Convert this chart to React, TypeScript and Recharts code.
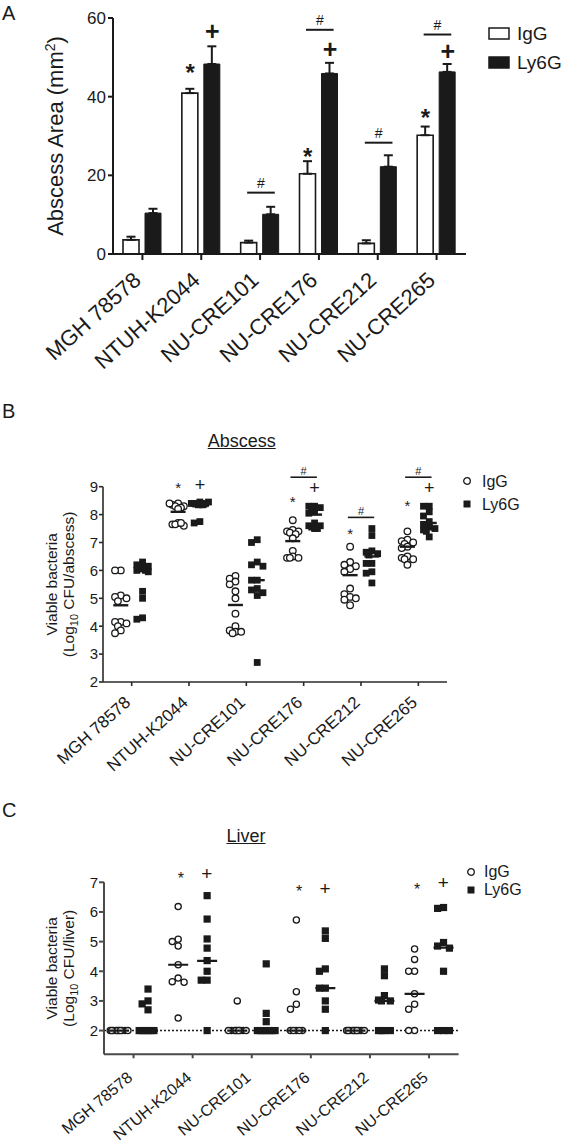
import React from 'react';
import { ComposedChart, Bar, Scatter, XAxis, YAxis, ErrorBar, ReferenceLine, ReferenceDot, Legend, Label } from 'recharts';

const FONT = '"Liberation Sans", Arial, Helvetica, sans-serif';
const INK = '#1a1a1a';

// ---------- shared categories ----------
const strains = ['MGH 78578', 'NTUH-K2044', 'NU-CRE101', 'NU-CRE176', 'NU-CRE212', 'NU-CRE265'];
const catIdx = [0, 1, 2, 3, 4, 5];
const seriesNames = ['IgG', 'Ly6G'];

// ---------- Panel A: abscess area (mm2), mean + SEM ----------
const areaIgG = [3.6, 40.9, 2.9, 20.4, 2.7, 30.2];
const areaIgGSem = [0.8, 1.1, 0.5, 3.2, 0.8, 2.2];
const areaLy6G = [10.4, 48.3, 10.1, 45.9, 22.2, 46.3];
const areaLy6GSem = [1.1, 4.5, 1.9, 2.7, 2.9, 2.0];
const areaStarY = [null, 47.0, null, 25.6, null, 35.6];
const areaPlusY = [null, 56.5, null, 52.0, null, 51.3];
const areaHashY = [null, null, 15.6, 57.0, 28.3, 55.8];
const areaTicks = [0, 20, 40, 60];

// ---------- Panel B: abscess CFU (log10) ----------
const absIgG = [
  [6.0, 6.0, 5.1, 5.05, 5.0, 4.9, 4.15, 4.15, 4.1, 4.0, 3.85, 3.75],
  [8.4, 8.35, 8.3, 8.3, 8.25, 8.2, 8.4, 7.7, 7.65, 7.6, 7.65, 7.7],
  [5.8, 5.7, 5.6, 5.5, 5.25, 5.0, 4.45, 4.0, 3.85, 3.8, 3.8, 3.75],
  [7.8, 7.45, 7.4, 7.4, 7.35, 7.3, 7.15, 6.7, 6.5, 6.45, 6.45, 6.45],
  [6.85, 6.3, 6.2, 6.15, 6.05, 5.95, 5.35, 5.15, 5.05, 5.0, 4.95, 4.75],
  [7.4, 7.1, 7.05, 7.0, 6.95, 6.85, 6.8, 6.5, 6.45, 6.4, 6.4, 6.2],
];
const absLy6G = [
  [6.3, 6.2, 6.15, 6.1, 6.05, 6.0, 6.0, 5.95, 5.25, 5.0, 4.3, 4.25],
  [8.45, 8.4, 8.4, 8.4, 8.35, 8.4, 8.45, 8.35, 7.75, 7.7],
  [7.1, 7.0, 6.3, 6.2, 6.15, 5.65, 5.65, 5.35, 5.3, 5.2, 5.1, 2.7],
  [8.3, 8.3, 8.25, 8.2, 8.1, 8.05, 7.7, 7.6, 7.6, 7.55, 7.5, 7.5],
  [7.5, 7.25, 6.7, 6.65, 6.6, 6.55, 6.25, 6.25, 5.95, 5.9, 5.55],
  [8.3, 8.3, 8.1, 7.95, 7.75, 7.65, 7.55, 7.5, 7.45, 7.4, 7.2],
];
const absIgGMean = [4.75, 8.1, 4.76, 7.05, 5.83, 6.85];
const absLy6GMean = [6.0, 8.3, 5.65, 8.0, 6.5, 7.7];
const absStarY = [null, 9.06, null, 8.55, 7.39, 8.4];
const absPlusY = [null, 9.06, null, 8.94, null, 8.96];
const absHashY = [null, null, null, 9.34, 7.9, 9.34];
const absTicks = [2, 3, 4, 5, 6, 7, 8, 9];

// ---------- Panel C: liver CFU (log10) ----------
const livIgG = [
  [2, 2, 2, 2, 2, 2, 2, 2, 2, 2],
  [6.18, 5.08, 5.0, 4.85, 4.22, 3.77, 3.65, 3.63, 2.42],
  [3.0, 2, 2, 2, 2, 2, 2, 2, 2, 2],
  [5.73, 3.31, 2.89, 2.72, 2, 2, 2, 2, 2],
  [2, 2, 2, 2, 2, 2, 2, 2, 2, 2],
  [4.75, 4.4, 4.0, 4.0, 3.24, 2.89, 2.72, 2.0, 2.0],
];
const livLy6G = [
  [3.4, 3.0, 2.9, 2.7, 2, 2, 2, 2, 2, 2],
  [6.55, 5.76, 5.09, 4.78, 4.36, 4.0, 3.7, 3.7, 2.0],
  [4.25, 2.58, 2.3, 2, 2, 2, 2, 2, 2, 2],
  [5.36, 5.11, 4.08, 4.0, 3.43, 3.43, 3.0, 2.72, 2.0],
  [4.08, 3.85, 3.18, 3.03, 3.0, 3.0, 2, 2, 2, 2],
  [6.15, 6.12, 4.97, 4.85, 4.78, 4.0, 2, 2, 2],
];
const livIgGMedian = [2, 4.22, 2, 2, 2, 3.24];
const livLy6GMedian = [2, 4.35, 2, 3.43, 3.0, 4.8];
const livStarY = [null, 7.21, null, 6.77, null, 6.85];
const livPlusY = [null, 7.28, null, 6.8, null, 7.0];
const livTicks = [2, 3, 4, 5, 6, 7];
const livLimit = 2;

// ---------- helpers ----------
const PATTERN = [0, -1, 1, -0.5, 0.5, -1.5, 1.5, -0.25, 0.25, -1.25, 1.25, -0.75, 0.75];
function swarm(groups: number[][], center: number, step: number, thr: number) {
  const pts: { x: number; y: number }[] = [];
  groups.forEach((vals, i) => {
    const placed: { y: number; k: number }[] = [];
    vals.forEach((v) => {
      const used = placed.filter((p) => Math.abs(p.y - v) < thr).map((p) => p.k);
      const k = PATTERN.find((o) => !used.includes(o)) ?? 0;
      placed.push({ y: v, k });
      pts.push({ x: i + center + k * step, y: v });
    });
  });
  return pts;
}
function marks(ys: (number | null)[], dx: number, dy = 0) {
  return catIdx.filter((i) => ys[i] != null).map((i) => ({ x: i + dx, y: (ys[i] as number) + dy }));
}

const circleShape = (r: number, sw: number) => (p: any) => (
  <circle cx={p.cx} cy={p.cy} r={r} fill="#fff" stroke={INK} strokeWidth={sw} />
);
const squareShape = (s: number) => (p: any) => (
  <rect x={p.cx - s / 2} y={p.cy - s / 2} width={s} height={s} fill={INK} />
);
const dashShape = (hw: number, sw: number) => (p: any) => (
  <line x1={p.cx - hw} x2={p.cx + hw} y1={p.cy} y2={p.cy} stroke={INK} strokeWidth={sw} />
);
const glyphShape = (sym: string, fs: number, weight: number, c: number) => (p: any) => (
  <text x={p.cx} y={p.cy + c * fs} textAnchor="middle" fontSize={fs} fontWeight={weight} fontFamily={FONT} fill={INK}>
    {sym}
  </text>
);
const rotTick = (fs: number, dy: number, angle: number) => (p: any) => {
  const ty = p.y + dy;
  const v = p.payload.value;
  const label = typeof v === 'number' ? strains[v] : v;
  return (
    <text x={p.x} y={ty} transform={`rotate(${angle} ${p.x} ${ty})`} textAnchor="end" fontSize={fs} fontFamily={FONT} fill={INK}>
      {label}
    </text>
  );
};

const twoLineTitle = (unit: string, fs: number, x1: number, x2: number) => (p: any) => {
  const vb = p.viewBox;
  const cy = vb.y + vb.height / 2;
  return (
    <g fontFamily={FONT} fill={INK} fontSize={fs}>
      <text x={x1} y={cy} transform={`rotate(-90 ${x1} ${cy})`} textAnchor="middle">Viable bacteria</text>
      <text x={x2} y={cy} transform={`rotate(-90 ${x2} ${cy})`} textAnchor="middle">
        (Log<tspan dy={4} fontSize={fs * 0.7}>10</tspan>
        <tspan dy={-4}> CFU/{unit})</tspan>
      </text>
    </g>
  );
};

const titleA = (p: any) => {
  const vb = p.viewBox;
  const cy = vb.y + vb.height / 2;
  const cx = 63;
  return (
    <text x={cx} y={cy} transform={`rotate(-90 ${cx} ${cy})`} textAnchor="middle" fontSize={22} fontFamily={FONT} fill={INK}>
      Abscess Area (mm<tspan dy={-8} fontSize={14}>2</tspan>
      <tspan dy={8}>)</tspan>
    </text>
  );
};

const LegendBox = ({ pitch, fs, gap, kind }: { pitch: number; fs: number; gap: number; kind: 'bar' | 'dot' }) => (
  <div style={{ fontFamily: FONT, fontSize: fs, color: INK, lineHeight: `${pitch}px` }}>
    {seriesNames.map((n, i) => (
      <div key={n} style={{ display: 'flex', alignItems: 'center', height: pitch }}>
        {kind === 'bar' ? (
          <svg width={22} height={13}>
            <rect x={1} y={1} width={20} height={11} fill={i === 0 ? '#fff' : INK} stroke={INK} strokeWidth={1.5} />
          </svg>
        ) : (
          <svg width={10} height={10}>
            {i === 0 ? (
              <circle cx={5} cy={5} r={3.3} fill="#fff" stroke={INK} strokeWidth={1.3} />
            ) : (
              <rect x={1.5} y={1.5} width={7} height={7} fill={INK} />
            )}
          </svg>
        )}
        <span style={{ marginLeft: gap }}>{n}</span>
      </div>
    ))}
  </div>
);

const glyphDots = (ys: (number | null)[], dx: number, dy: number, shape: any, xAxisId: any = 0) =>
  marks(ys, dx, dy).map((m, k) => (
    <ReferenceDot key={`${k}-${m.x}`} xAxisId={xAxisId} x={m.x} y={m.y} r={1} ifOverflow="visible" shape={shape} />
  ));
const bracketLines = (ys: (number | null)[], dx: number, half: number, sw: number, xAxisId: any = 0) =>
  marks(ys, dx).map((m, k) => (
    <ReferenceLine key={`${k}-${m.x}`} xAxisId={xAxisId} segment={[{ x: m.x - half, y: m.y }, { x: m.x + half, y: m.y }]}
      stroke={INK} strokeWidth={sw} ifOverflow="visible" />
  ));

// ---------- Panel A ----------
function PanelA() {
  const data = catIdx.map((i) => ({
    name: strains[i],
    igg: areaIgG[i],
    iggErr: [0, areaIgGSem[i]],
    ly6g: areaLy6G[i],
    ly6gErr: [0, areaLy6GSem[i]],
  }));
  const axisStyle = { stroke: INK, strokeWidth: 2 };
  return (
    <ComposedChart width={566} height={400} data={data} margin={{ top: 18, right: 100, bottom: 0, left: 0 }} barSize={16} barGap={6}>
      <XAxis dataKey="name" type="category" interval={0} height={146} tickSize={6} tickMargin={0}
        axisLine={axisStyle} tickLine={axisStyle} tick={rotTick(22, 22, -42)} />
      <XAxis xAxisId="n" type="number" dataKey="x" domain={[-0.5, 5.5]} allowDataOverflow hide />
      <YAxis type="number" domain={[0, 60]} ticks={areaTicks} allowDataOverflow width={113} tickSize={5} tickMargin={2}
        axisLine={axisStyle} tickLine={axisStyle} tick={{ fontSize: 17, fill: INK, fontFamily: FONT }}>
        <Label content={titleA} />
      </YAxis>
      <Bar dataKey="igg" name={seriesNames[0]} fill="#fff" stroke={INK} strokeWidth={1.6} isAnimationActive={false}>
        <ErrorBar dataKey="iggErr" direction="y" width={4.5} strokeWidth={2} stroke={INK} />
      </Bar>
      <Bar dataKey="ly6g" name={seriesNames[1]} fill={INK} stroke={INK} strokeWidth={1} isAnimationActive={false}>
        <ErrorBar dataKey="ly6gErr" direction="y" width={4.5} strokeWidth={2} stroke={INK} />
      </Bar>
      {bracketLines(areaHashY, 0.015, 0.235, 2, 'n')}
      {glyphDots(areaStarY, -0.19, 0, glyphShape('*', 24, 700, 0.5), 'n')}
      {glyphDots(areaPlusY, 0.19, 0, glyphShape('+', 25, 700, 0.33), 'n')}
      {glyphDots(areaHashY, 0.015, 2.5, glyphShape('#', 14, 400, 0.36), 'n')}
      <Legend layout="vertical" align="center" verticalAlign="middle"
        wrapperStyle={{ left: 488, top: 19, width: 78 }}
        content={() => <LegendBox pitch={29} fs={19} gap={7} kind="bar" />} />
    </ComposedChart>
  );
}

// ---------- Panel B ----------
function PanelB() {
  const axisStyle = { stroke: '#2a2a2a', strokeWidth: 1.6 };
  return (
    <ComposedChart width={566} height={330} margin={{ top: 26.7, right: 119, bottom: 0, left: 0 }}>
      <XAxis dataKey="x" type="number" domain={[-0.5, 5.5]} ticks={catIdx} interval={0} allowDataOverflow
        height={108} tickSize={4} tickMargin={0} axisLine={axisStyle} tickLine={axisStyle} tick={rotTick(17, 18, -42)} />
      <YAxis type="number" domain={[2, 9]} ticks={absTicks} allowDataOverflow width={103} tickSize={4} tickMargin={1}
        axisLine={axisStyle} tickLine={axisStyle} tick={{ fontSize: 15, fill: INK, fontFamily: FONT }}>
        <Label content={twoLineTitle('abscess', 15.5, 57, 74)} />
      </YAxis>
      <Scatter name={seriesNames[0]} data={swarm(absIgG, -0.19, 0.1, 0.2)} dataKey="y" shape={circleShape(3.3, 1.3)} isAnimationActive={false} />
      <Scatter name={seriesNames[1]} data={swarm(absLy6G, 0.19, 0.1, 0.2)} dataKey="y" shape={squareShape(6.8)} isAnimationActive={false} />
      <Scatter data={marks(absIgGMean, -0.19)} dataKey="y" shape={dashShape(7.5, 2.4)} isAnimationActive={false} />
      <Scatter data={marks(absLy6GMean, 0.19)} dataKey="y" shape={dashShape(7.5, 2.4)} isAnimationActive={false} />
      {bracketLines(absHashY, 0, 0.23, 1.6)}
      {glyphDots(absStarY, -0.19, 0, glyphShape('*', 15, 400, 0.5))}
      {glyphDots(absPlusY, 0.19, 0, glyphShape('+', 18, 400, 0.33))}
      {glyphDots(absHashY, 0, 0.23, glyphShape('#', 11, 400, 0.36))}
      <Legend layout="vertical" align="center" verticalAlign="middle"
        wrapperStyle={{ left: 462, top: 9.5, width: 90 }}
        content={() => <LegendBox pitch={23} fs={16} gap={10} kind="dot" />} />
    </ComposedChart>
  );
}

// ---------- Panel C ----------
function PanelC() {
  const axisStyle = { stroke: '#4a4a4a', strokeWidth: 2 };
  return (
    <ComposedChart width={566} height={293} margin={{ top: 32.3, right: 107.4, bottom: 0, left: 0 }}>
      <XAxis dataKey="x" type="number" domain={[-0.5, 5.5]} ticks={catIdx} interval={0} allowDataOverflow
        height={88.7} tickSize={4} tickMargin={0} axisLine={axisStyle} tickLine={axisStyle} tick={rotTick(16, 21, -40)} />
      <YAxis type="number" domain={[1.2, 7]} ticks={livTicks} allowDataOverflow width={104} tickSize={5} tickMargin={1}
        axisLine={axisStyle} tickLine={axisStyle} tick={{ fontSize: 15, fill: INK, fontFamily: FONT }}>
        <Label content={twoLineTitle('liver', 15.5, 57, 74)} />
      </YAxis>
      <ReferenceLine y={livLimit} stroke={INK} strokeWidth={1.5} strokeDasharray="2 2" />
      <Scatter name={seriesNames[0]} data={swarm(livIgG, -0.245, 0.1, 0.2)} dataKey="y" shape={circleShape(3.1, 1.3)} isAnimationActive={false} />
      <Scatter name={seriesNames[1]} data={swarm(livLy6G, 0.245, 0.1, 0.2)} dataKey="y" shape={squareShape(7.2)} isAnimationActive={false} />
      <Scatter data={marks(livIgGMedian, -0.245)} dataKey="y" shape={dashShape(10, 2.2)} isAnimationActive={false} />
      <Scatter data={marks(livLy6GMedian, 0.245)} dataKey="y" shape={dashShape(10, 2.2)} isAnimationActive={false} />
      {glyphDots(livStarY, -0.2, 0, glyphShape('*', 16, 400, 0.5))}
      {glyphDots(livPlusY, 0.24, 0, glyphShape('+', 19, 400, 0.33))}
      <Legend layout="vertical" align="center" verticalAlign="middle"
        wrapperStyle={{ left: 466, top: 13, width: 90 }}
        content={() => <LegendBox pitch={18} fs={16} gap={8} kind="dot" />} />
    </ComposedChart>
  );
}

const letterStyle: React.CSSProperties = { position: 'absolute', left: 2, fontFamily: FONT, fontSize: 20, lineHeight: '20px', color: INK };
const titleStyle: React.CSSProperties = { position: 'absolute', width: 120, textAlign: 'center', fontFamily: FONT, fontSize: 18, lineHeight: '18px', color: INK, textDecoration: 'underline' };

export default function App() {
  return (
    <div style={{ position: 'absolute', left: 0, top: 0, width: 566, height: 1143, background: '#fff', overflow: 'hidden' }}>
      <div style={{ position: 'absolute', left: 0, top: 0 }}><PanelA /></div>
      <div style={{ position: 'absolute', left: 0, top: 460 }}><PanelB /></div>
      <div style={{ position: 'absolute', left: 0, top: 850 }}><PanelC /></div>
      <div style={{ ...letterStyle, top: 2.5 }}>A</div>
      <div style={{ ...letterStyle, top: 400.5 }}>B</div>
      <div style={{ ...letterStyle, top: 799.5 }}>C</div>
      <div style={{ ...titleStyle, left: 181.7, top: 432 }}>Abscess</div>
      <div style={{ ...titleStyle, left: 186, top: 827 }}>Liver</div>
    </div>
  );
}
